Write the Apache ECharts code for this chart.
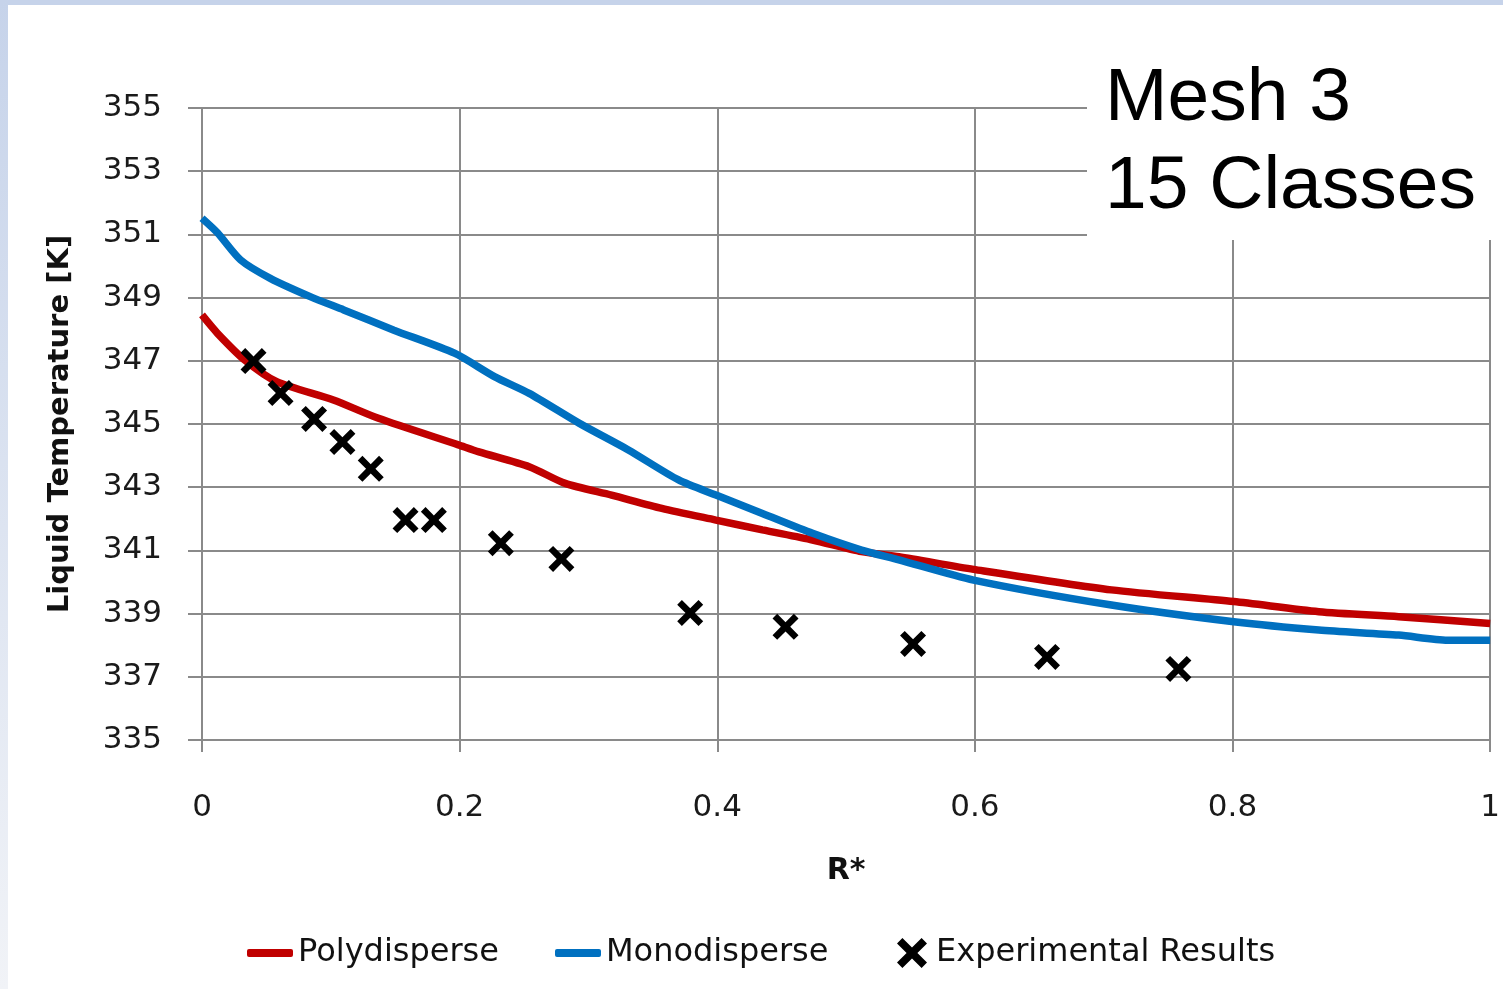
<!DOCTYPE html>
<html>
<head>
<meta charset="utf-8">
<script src="https://cdn.jsdelivr.net/npm/echarts@6/dist/echarts.min.js"></script>
<style>
html,body{margin:0;padding:0;background:#fff;}
#chart{width:1503px;height:989px;}
</style>
</head>
<body>
<div id="chart"></div>
<script>
// R* positions and temperatures [K]
const polyX = [0, 0.012, 0.033, 0.058, 0.102, 0.137, 0.199, 0.215, 0.254, 0.282, 0.318, 0.357, 0.399, 0.435, 0.474, 0.512, 0.541, 0.599, 0.706, 0.801, 0.867, 0.929, 1.0];
const polyY = [348.45, 347.87, 347.03, 346.34, 345.76, 345.18, 344.34, 344.12, 343.65, 343.12, 342.75, 342.33, 341.96, 341.65, 341.33, 340.96, 340.80, 340.40, 339.75, 339.38, 339.06, 338.90, 338.69];

const monoX = [0, 0.012, 0.030, 0.053, 0.084, 0.110, 0.149, 0.196, 0.227, 0.254, 0.293, 0.331, 0.370, 0.399, 0.435, 0.474, 0.512, 0.541, 0.599, 0.706, 0.801, 0.867, 0.929, 0.967, 1.0];
const monoY = [351.51, 351.05, 350.19, 349.61, 349.03, 348.61, 347.97, 347.24, 346.50, 345.97, 345.02, 344.18, 343.23, 342.75, 342.17, 341.54, 341.01, 340.70, 340.06, 339.27, 338.74, 338.48, 338.32, 338.16, 338.16];

const expX = [0.040, 0.061, 0.087, 0.109, 0.131, 0.158, 0.180, 0.232, 0.279, 0.379, 0.453, 0.552, 0.656, 0.758];
const expY = [346.99, 345.98, 345.16, 344.43, 343.58, 341.96, 341.96, 341.23, 340.73, 339.02, 338.58, 338.04, 337.63, 337.25];

const seriesNames = ['Polydisperse', 'Monodisperse', 'Experimental Results'];
const xTicks = { min: 0, max: 1, interval: 0.2 };
const yTicks = { min: 335, max: 355, interval: 2 };
const noteLines = ['Mesh 3', '15 Classes'];

const zip = (xs, ys) => xs.map((x, i) => [x, ys[i]]);
const crossPath = 'path://M0,3.6 L3.6,0 L10,6.4 L16.4,0 L20,3.6 L13.6,10 L20,16.4 L16.4,20 L10,13.6 L3.6,20 L0,16.4 L6.4,10 Z';
const gridColor = '#8a8a8a';
const font = 'DejaVu Sans';

const chart = echarts.init(document.getElementById('chart'), null, { renderer: 'canvas' });
chart.setOption({
  backgroundColor: '#ffffff',
  animation: false,
  grid: { left: 202, right: 11, top: 108, bottom: 249, containLabel: false },
  xAxis: {
    type: 'value', min: xTicks.min, max: xTicks.max, interval: xTicks.interval,
    name: 'R*', nameLocation: 'middle', nameGap: 116,
    nameTextStyle: { fontFamily: font, fontWeight: 'bold', fontSize: 30, color: '#111' },
    axisLine: { show: true, lineStyle: { color: gridColor, width: 2 } },
    axisTick: { show: true, length: 12, lineStyle: { color: gridColor, width: 2 } },
    axisLabel: { margin: 52, fontFamily: font, fontSize: 31, color: '#1a1a1a' },
    splitLine: { show: true, lineStyle: { color: gridColor, width: 2 } }
  },
  yAxis: {
    type: 'value', min: yTicks.min, max: yTicks.max, interval: yTicks.interval,
    name: 'Liquid Temperature [K]', nameLocation: 'middle', nameGap: 127, nameRotate: 90,
    nameTextStyle: { fontFamily: font, fontWeight: 'bold', fontSize: 29, color: '#111' },
    axisLine: { show: true, lineStyle: { color: gridColor, width: 2 } },
    axisTick: { show: true, length: 14, lineStyle: { color: gridColor, width: 2 } },
    axisLabel: { margin: 40, fontFamily: font, fontSize: 31, color: '#1a1a1a', padding: [6, 0, 0, 0] },
    splitLine: { show: true, lineStyle: { color: gridColor, width: 2 } }
  },
  legend: [
    { data: [{ name: seriesNames[0], icon: 'roundRect' }], left: 247, top: 937, padding: 0,
      itemWidth: 46, itemHeight: 8, textStyle: { fontFamily: font, fontSize: 32, color: '#111' } },
    { data: [{ name: seriesNames[1], icon: 'roundRect' }], left: 555, top: 937, padding: 0,
      itemWidth: 46, itemHeight: 8, textStyle: { fontFamily: font, fontSize: 32, color: '#111' } },
    { data: [{ name: seriesNames[2], icon: crossPath }], left: 897, top: 937, padding: 0,
      itemWidth: 38, itemHeight: 30, textStyle: { fontFamily: font, fontSize: 32, color: '#111' } }
  ],
  graphic: [
    { type: 'rect', left: 0, top: 0, shape: { width: 1503, height: 5 }, style: { fill: '#c6d3ea' }, z: 200 },
    { type: 'rect', left: 0, top: 0, shape: { width: 8, height: 989 },
      style: { fill: new echarts.graphic.LinearGradient(0, 0, 0, 1, [
        { offset: 0, color: '#c6d3ea' }, { offset: 1, color: '#f1f3f7' }]) }, z: 200 },
    { type: 'rect', left: 1087, top: 30, shape: { width: 416, height: 210 }, style: { fill: '#ffffff' }, z: 100 },
    { type: 'text', left: 1105, top: 62, z: 101,
      style: { text: noteLines[0], font: '75px "Liberation Sans"', fill: '#000' } },
    { type: 'text', left: 1105, top: 150, z: 101,
      style: { text: noteLines[1], font: '75px "Liberation Sans"', fill: '#000' } }
  ],
  series: [
    { name: seriesNames[0], type: 'line', data: zip(polyX, polyY), smooth: 0.25, showSymbol: false, symbol: 'none',
      lineStyle: { color: '#c00000', width: 7.5 }, itemStyle: { color: '#c00000' }, z: 2 },
    { name: seriesNames[1], type: 'line', data: zip(monoX, monoY), smooth: 0.25, showSymbol: false, symbol: 'none',
      lineStyle: { color: '#0070c0', width: 7.5 }, itemStyle: { color: '#0070c0' }, z: 3 },
    { name: seriesNames[2], type: 'scatter', data: zip(expX, expY), symbol: crossPath, symbolSize: 26,
      itemStyle: { color: '#000', opacity: 1 }, z: 4 }
  ]
});
</script>
</body>
</html>
